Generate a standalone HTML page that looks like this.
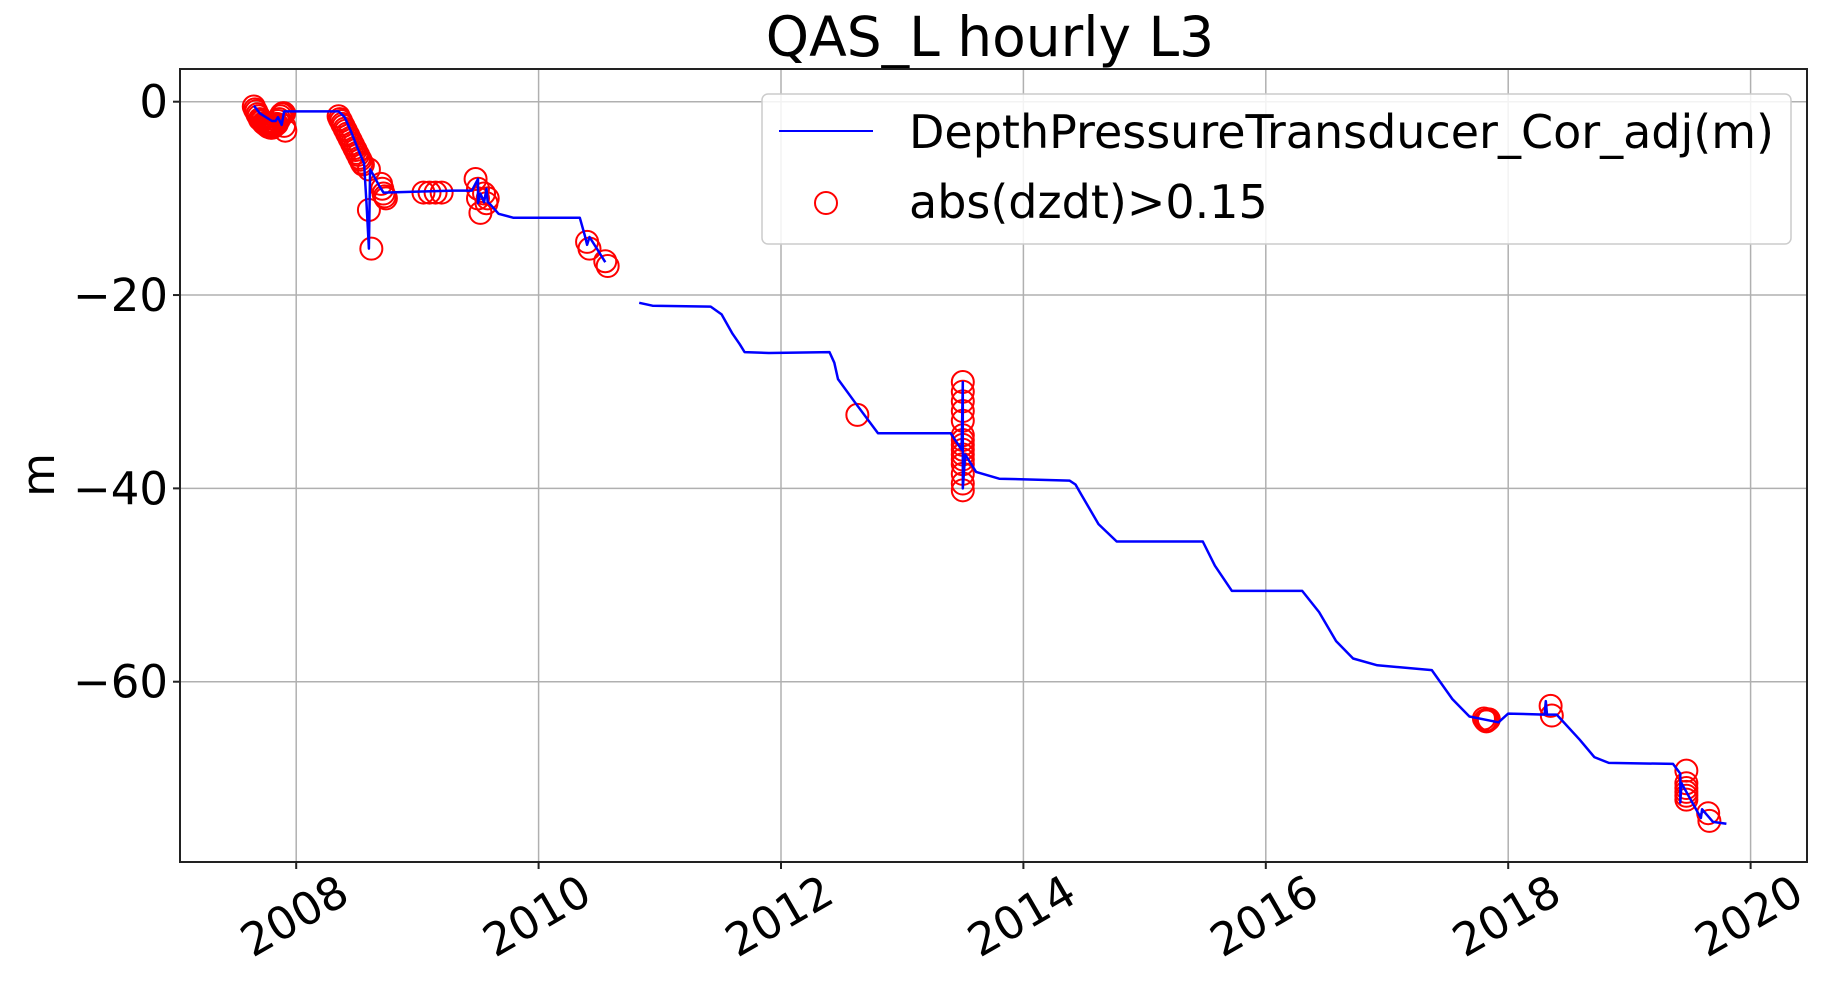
<!DOCTYPE html>
<html><head><meta charset="utf-8"><style>
body{margin:0;background:#fff;}
svg text{font-family:"DejaVu Sans","Liberation Sans",sans-serif;fill:#000;}
</style></head><body>
<svg id="chart" width="1828" height="989" viewBox="0 0 1828 989" xmlns="http://www.w3.org/2000/svg">
<rect width="1828" height="989" fill="#fff"/>
<text x="990" y="56" font-size="55" text-anchor="middle">QAS_L hourly L3</text>
<text transform="translate(54,475) rotate(-90)" font-size="45" text-anchor="middle">m</text>
<g id="grid"></g>
<g id="ticks"></g>
<g id="series"></g>
<rect x="180" y="69" width="1627" height="793" fill="none" stroke="#222" stroke-width="2"/>
<g>
<rect x="762" y="94" width="1029" height="150" rx="6" fill="#fff" fill-opacity="0.85" stroke="#ccc" stroke-width="1.5"/>
<line x1="779" y1="131" x2="873" y2="131" stroke="#0000ff" stroke-width="2"/>
<text x="909" y="148" font-size="46">DepthPressureTransducer_Cor_adj(m)</text>
<circle cx="826" cy="203" r="11" fill="none" stroke="#ff0000" stroke-width="2"/>
<text x="909" y="218" font-size="46">abs(dzdt)&gt;0.15</text>
</g>
</svg>
<script>
const xTicks=[2008,2010,2012,2014,2016,2018,2020];
const yTicks=[0,-20,-40,-60];
const lineYears=[2007.65,2007.7,2007.75,2007.8,2007.83,2007.85,2007.88,2007.9,2008.0,2008.2,2008.35,2008.4,2008.45,2008.5,2008.56,2008.58,2008.6,2008.61,2008.62,2008.69,2008.72,2009.0,2009.3,2009.45,2009.5,2009.5,2009.52,2009.55,2009.57,2009.58,2009.6,2009.67,2009.79,2010.0,2010.34,2010.38,2010.4,2010.42,2010.48,2010.55];
const lineVals=[-0.4,-1.2,-1.6,-2.0,-2.0,-1.6,-2.4,-1.0,-1.0,-1.0,-1.0,-1.6,-3.0,-4.6,-6.4,-10.5,-15.2,-7.0,-7.2,-8.8,-9.4,-9.3,-9.2,-9.2,-8.0,-10.5,-9.5,-10.4,-9.0,-10.4,-10.6,-11.6,-12.0,-12.0,-12.0,-13.8,-14.8,-14.0,-15.2,-16.6];
const line2Years=[2010.83,2010.94,2011.42,2011.51,2011.6,2011.66,2011.7,2011.9,2012.4,2012.44,2012.47,2012.61,2012.8,2013.0,2013.4,2013.49,2013.5,2013.5,2013.52,2013.61,2013.8,2014.38,2014.43,2014.48,2014.62,2014.77,2015.48,2015.58,2015.72,2016.3,2016.44,2016.58,2016.72,2016.92,2017.37,2017.54,2017.68,2017.92,2018.0,2018.3,2018.31,2018.32,2018.4,2018.59,2018.71,2018.83,2019.36,2019.42,2019.42,2019.43,2019.59,2019.6,2019.69,2019.8];
const line2Vals=[-20.8,-21.1,-21.2,-22.0,-24.0,-25.1,-25.9,-26.0,-25.9,-27.0,-28.7,-31.1,-34.3,-34.3,-34.3,-36.0,-29.0,-40.0,-36.5,-38.3,-39.0,-39.2,-39.6,-40.7,-43.7,-45.5,-45.5,-48.0,-50.6,-50.6,-52.8,-55.8,-57.6,-58.3,-58.8,-61.8,-63.6,-64.2,-63.3,-63.4,-62.0,-63.4,-63.4,-66.0,-67.8,-68.4,-68.5,-69.5,-72.5,-70.5,-74.1,-73.2,-74.5,-74.7];
const markerYears=[2007.65,2007.66,2007.67,2007.68,2007.69,2007.7,2007.71,2007.72,2007.73,2007.74,2007.75,2007.76,2007.77,2007.78,2007.79,2007.8,2007.81,2007.82,2007.83,2007.84,2007.85,2007.86,2007.87,2007.88,2007.89,2007.9,2007.9,2007.91,2008.35,2008.36,2008.37,2008.38,2008.39,2008.4,2008.41,2008.42,2008.43,2008.44,2008.45,2008.46,2008.47,2008.48,2008.49,2008.5,2008.51,2008.52,2008.53,2008.54,2008.55,2008.6,2008.6,2008.62,2008.7,2008.71,2008.72,2008.73,2008.74,2009.05,2009.1,2009.15,2009.2,2009.48,2009.5,2009.5,2009.52,2009.55,2009.57,2009.58,2010.4,2010.42,2010.55,2010.57,2012.63,2013.5,2013.5,2013.5,2013.5,2013.5,2013.5,2013.5,2013.5,2013.5,2013.5,2013.5,2013.5,2013.5,2013.5,2013.5,2017.8,2017.81,2017.82,2017.83,2017.84,2018.35,2018.36,2019.47,2019.47,2019.47,2019.47,2019.47,2019.47,2019.65,2019.66];
const markerVals=[-0.5,-0.8,-1.0,-1.3,-1.5,-1.8,-1.9,-2.0,-2.2,-2.3,-2.4,-2.5,-2.6,-2.6,-2.7,-2.7,-2.6,-2.5,-2.4,-2.3,-2.0,-1.8,-1.5,-1.3,-1.2,-1.2,-2.5,-3.0,-1.5,-1.8,-2.0,-2.3,-2.5,-2.8,-3.0,-3.3,-3.5,-3.8,-4.0,-4.3,-4.5,-4.8,-5.0,-5.3,-5.5,-5.8,-6.0,-6.3,-6.5,-7.0,-11.2,-15.2,-8.5,-9.0,-9.5,-9.8,-10.0,-9.4,-9.4,-9.4,-9.4,-8.0,-9.0,-10.0,-11.5,-9.5,-10.5,-10.0,-14.5,-15.2,-16.5,-17.0,-32.4,-29.0,-30.0,-31.0,-32.0,-33.0,-34.5,-35.0,-35.5,-36.0,-36.5,-37.0,-37.5,-38.5,-39.5,-40.2,-63.8,-64.0,-64.1,-64.0,-63.9,-62.5,-63.5,-69.2,-70.5,-71.0,-71.4,-71.8,-72.2,-73.6,-74.4];
const NS='http://www.w3.org/2000/svg';
const L=180,R=1807,T=69,B=862;
function xs(y){return 296.2+(y-2008)*121.2;}
function ys(v){return 101.7-v*9.667;}
function mk(tag,attrs,parent){const e=document.createElementNS(NS,tag);for(const k in attrs)e.setAttribute(k,attrs[k]);parent.appendChild(e);return e;}
const grid=document.getElementById('grid'),ticks=document.getElementById('ticks'),series=document.getElementById('series');
xTicks.forEach(t=>{const x=xs(t);
 const g=mk('line',{x1:x,y1:T,x2:x,y2:B,stroke:'#b0b0b0','stroke-width':1.5},grid);
 
 
 const tk=mk('line',{x1:x,y1:B,x2:x,y2:B+7,stroke:'#222','stroke-width':2},ticks);
 
 
 const tx=mk('text',{transform:`translate(${x},${B+57}) rotate(-30)`,'font-size':45,'text-anchor':'middle','dominant-baseline':'middle'},ticks);
 tx.textContent=t;
 
 
});
yTicks.forEach(t=>{const y=ys(t);
 const g=mk('line',{x1:L,y1:y,x2:R,y2:y,stroke:'#b0b0b0','stroke-width':1.5},grid);
 
 
 const tk=mk('line',{x1:L-7,y1:y,x2:L,y2:y,stroke:'#222','stroke-width':2},ticks);
 
 
 const tx=mk('text',{x:L-12,y:y+16,'font-size':45,'text-anchor':'end'},ticks);
 tx.textContent=t===0?'0':'\u2212'+Math.abs(t);
 
 
});
markerYears.forEach((yr,i)=>{
 const c=mk('circle',{cx:xs(yr),cy:ys(markerVals[i]),r:11,fill:'none',stroke:'#ff0000','stroke-width':2},series);
 
 
});
function path(yrs,vals,name){
 const d=yrs.map((y,i)=>(i?'L':'M')+xs(y).toFixed(1)+' '+ys(vals[i]).toFixed(1)).join(' ');
 const p=mk('path',{d:d,fill:'none',stroke:'#0000ff','stroke-width':2.5,'stroke-linejoin':'round'},series);
 
 
}
path(lineYears,lineVals,'depth-line-segment-1');
path(line2Years,line2Vals,'depth-line-segment-2');
</script>
</body></html>
